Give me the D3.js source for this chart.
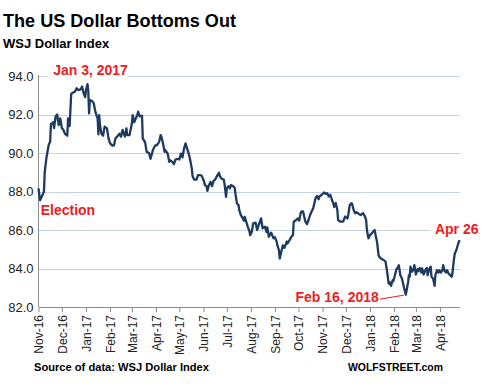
<!DOCTYPE html>
<html>
<head>
<meta charset="utf-8">
<script src="https://cdn.jsdelivr.net/npm/d3@7"></script>
<style>
  body { margin: 0; background: #fff; }
  svg { display: block; font-family: "Liberation Sans", Arial, sans-serif; }
</style>
</head>
<body>
<div id="chart"></div>
<script>
var width = 484,
    height = 386;

// WSJ Dollar Index
var dates = [
  "2016-11-01","2016-11-03","2016-11-07","2016-11-08","2016-11-09","2016-11-11","2016-11-14","2016-11-16","2016-11-17","2016-11-20",
  "2016-11-21","2016-11-23","2016-11-25","2016-11-27","2016-11-29","2016-12-01","2016-12-03","2016-12-05","2016-12-08","2016-12-09",
  "2016-12-11","2016-12-13","2016-12-14","2016-12-18","2016-12-20","2016-12-22","2016-12-25","2016-12-27","2016-12-29","2016-12-31",
  "2017-01-01","2017-01-03","2017-01-04","2017-01-05","2017-01-06","2017-01-09","2017-01-11","2017-01-13","2017-01-15","2017-01-16",
  "2017-01-17","2017-01-18","2017-01-19","2017-01-21","2017-01-23","2017-01-25","2017-01-28","2017-01-30","2017-02-01","2017-02-04",
  "2017-02-06","2017-02-08","2017-02-11","2017-02-13","2017-02-15","2017-02-17","2017-02-20","2017-02-22","2017-02-23","2017-02-26",
  "2017-03-01","2017-03-02","2017-03-04","2017-03-06","2017-03-08","2017-03-09","2017-03-11","2017-03-14","2017-03-15","2017-03-18",
  "2017-03-20","2017-03-23","2017-03-25","2017-03-28","2017-03-31","2017-04-02","2017-04-05","2017-04-07","2017-04-08","2017-04-10",
  "2017-04-12","2017-04-13","2017-04-16","2017-04-18","2017-04-19","2017-04-22","2017-04-24","2017-04-26","2017-04-29","2017-05-01",
  "2017-05-03","2017-05-05","2017-05-07","2017-05-09","2017-05-11","2017-05-13","2017-05-15","2017-05-17","2017-05-18","2017-05-20",
  "2017-05-23","2017-05-25","2017-05-28","2017-05-30","2017-06-01","2017-06-03","2017-06-05","2017-06-06","2017-06-08","2017-06-10",
  "2017-06-12","2017-06-14","2017-06-16","2017-06-19","2017-06-21","2017-06-22","2017-06-24","2017-06-27","2017-06-28","2017-06-30",
  "2017-07-01","2017-07-03","2017-07-05","2017-07-06","2017-07-09","2017-07-11","2017-07-12","2017-07-14","2017-07-16","2017-07-17",
  "2017-07-19","2017-07-21","2017-07-23","2017-07-24","2017-07-26","2017-07-28","2017-07-30","2017-07-31","2017-08-02","2017-08-04",
  "2017-08-07","2017-08-09","2017-08-11","2017-08-14","2017-08-16","2017-08-19","2017-08-21","2017-08-22","2017-08-24","2017-08-27",
  "2017-08-30","2017-09-01","2017-09-03","2017-09-04","2017-09-06","2017-09-07","2017-09-10","2017-09-11","2017-09-13","2017-09-16",
  "2017-09-17","2017-09-20","2017-09-22","2017-09-24","2017-09-25","2017-09-28","2017-09-30","2017-10-02","2017-10-04","2017-10-05",
  "2017-10-07","2017-10-09","2017-10-10","2017-10-12","2017-10-14","2017-10-16","2017-10-18","2017-10-20","2017-10-21","2017-10-23",
  "2017-10-25","2017-10-27","2017-10-28","2017-10-31","2017-11-03","2017-11-05","2017-11-07","2017-11-09","2017-11-11","2017-11-13",
  "2017-11-15","2017-11-16","2017-11-18","2017-11-20","2017-11-21","2017-11-24","2017-11-27","2017-11-28","2017-11-30","2017-12-03",
  "2017-12-04","2017-12-06","2017-12-08","2017-12-09","2017-12-11","2017-12-13","2017-12-15","2017-12-18","2017-12-20","2017-12-23",
  "2017-12-25","2017-12-27","2017-12-28","2017-12-30","2018-01-01","2018-01-02","2018-01-05","2018-01-07","2018-01-08","2018-01-10",
  "2018-01-12","2018-01-13","2018-01-16","2018-01-19","2018-01-21","2018-01-23","2018-01-25","2018-01-26","2018-01-28","2018-01-30",
  "2018-01-31","2018-02-02","2018-02-04","2018-02-06","2018-02-07","2018-02-09","2018-02-11","2018-02-14","2018-02-16","2018-02-19",
  "2018-02-20","2018-02-21","2018-02-22","2018-02-24","2018-02-26","2018-02-27","2018-03-01","2018-03-03","2018-03-04","2018-03-06",
  "2018-03-08","2018-03-09","2018-03-11","2018-03-13","2018-03-15","2018-03-16","2018-03-18","2018-03-20","2018-03-21","2018-03-23",
  "2018-03-25","2018-03-26","2018-03-28","2018-03-30","2018-03-31","2018-04-02","2018-04-04","2018-04-05","2018-04-07","2018-04-09",
  "2018-04-10","2018-04-12","2018-04-14","2018-04-16","2018-04-17","2018-04-19","2018-04-20","2018-04-22","2018-04-24","2018-04-26"
];

var values = [
  88.16,87.55,87.90,88.00,89.00,89.70,90.40,90.60,91.50,91.60,
  91.30,91.90,92.00,91.45,91.80,91.30,91.20,91.00,90.90,91.80,
  91.40,93.05,93.10,93.20,93.36,93.27,93.30,93.45,93.10,92.90,
  93.27,93.58,93.20,92.06,92.75,92.70,92.58,92.15,91.90,91.80,
  90.97,91.97,91.45,91.00,90.90,91.37,91.28,90.76,90.50,90.38,
  90.40,90.76,90.90,91.00,90.85,91.20,90.85,91.28,90.93,90.93,
  91.54,91.97,91.60,91.80,91.97,92.15,91.90,91.94,90.76,90.55,
  90.06,90.00,89.70,90.15,90.40,90.40,90.58,90.93,90.84,90.50,
  90.06,90.15,89.97,89.54,89.63,89.54,89.42,89.66,89.70,89.66,
  89.97,89.77,90.23,90.50,90.23,89.97,89.63,89.20,88.80,88.62,
  88.62,88.85,88.85,88.80,88.60,88.33,88.28,88.03,88.33,88.50,
  88.28,88.55,88.62,88.85,88.97,88.80,88.68,88.62,88.42,87.72,
  88.16,88.28,88.16,88.33,88.28,88.20,87.90,87.38,87.30,87.03,
  86.77,86.65,86.48,86.68,86.42,86.16,85.95,85.73,85.90,86.35,
  86.38,86.00,86.26,86.60,86.09,86.17,85.90,86.14,85.65,85.86,
  85.57,85.62,85.40,85.20,84.96,84.52,85.04,85.20,85.07,85.40,
  85.30,85.50,85.65,85.74,86.43,86.52,86.60,86.49,86.90,86.96,
  86.96,86.60,86.43,86.30,86.52,86.78,86.96,87.13,87.30,87.65,
  87.77,87.60,87.74,87.83,87.95,87.88,87.91,87.74,87.83,87.57,
  87.36,87.20,87.40,87.04,86.52,86.43,86.43,86.49,86.70,86.60,
  86.78,87.30,87.39,87.36,87.04,86.87,86.92,86.82,86.78,86.87,
  86.75,86.52,86.00,85.57,85.74,85.77,85.91,86.00,85.77,85.39,
  84.70,84.60,84.49,84.43,84.35,83.83,83.22,83.30,83.10,83.39,
  83.34,83.65,83.97,84.08,84.17,83.65,83.48,82.96,82.64,83.30,
  83.65,83.57,84.09,83.83,83.97,84.17,83.69,83.97,83.86,84.03,
  83.79,84.00,83.69,83.91,84.03,83.65,83.97,84.09,83.57,83.48,
  83.10,83.65,83.91,83.79,83.91,83.79,83.91,84.17,83.86,83.79,
  83.91,83.74,83.65,83.57,83.79,84.52,84.78,84.96,85.25,85.48
];

var yTicks = [82, 84, 86, 88, 90, 92, 94];

var annotations = [
  { text: "Jan 3, 2017", date: "2017-01-03", anchor: "middle" },
  { text: "Election", date: "2016-11-08", anchor: "middle" },
  { text: "Feb 16, 2018", date: "2018-02-16", anchor: "end" },
  { text: "Apr 26", date: "2018-04-26", anchor: "end" }
];

var parseDate = d3.timeParse("%Y-%m-%d");
var data = dates.map(function(d, i) { return { date: parseDate(d), value: values[i] }; });

var svg = d3.select("#chart").append("svg")
    .attr("width", width)
    .attr("height", height);

var x = d3.scaleTime()
    .domain([parseDate("2016-11-01"), parseDate("2018-04-26")])
    .range([38.5, 459.5]);

var y = d3.scaleLinear()
    .domain([82, 94])
    .range([307, 76]);

// titles
svg.append("text")
    .attr("x", 3).attr("y", 27)
    .attr("font-size", 18).attr("font-weight", "bold")
    .attr("textLength", 233).attr("lengthAdjust", "spacingAndGlyphs")
    .attr("fill", "#000")
    .text("The US Dollar Bottoms Out");

svg.append("text")
    .attr("x", 3).attr("y", 48)
    .attr("font-size", 13).attr("font-weight", "bold")
    .attr("fill", "#000")
    .text("WSJ Dollar Index");

// gridlines
svg.append("g")
    .selectAll("line")
    .data(yTicks.filter(function(t) { return t > 82; }))
    .enter().append("line")
    .attr("x1", x.range()[0]).attr("x2", 460)
    .attr("y1", function(d) { return Math.round(y(d)) + 0.5; })
    .attr("y2", function(d) { return Math.round(y(d)) + 0.5; })
    .style("stroke", "#c3d2e6")
    .style("stroke-width", 1.2);

// y axis
var yAxis = svg.append("g")
    .attr("transform", "translate(38.5,0)")
    .call(d3.axisLeft(y).tickValues(yTicks).tickFormat(d3.format(".1f")).tickSize(0).tickPadding(5));
yAxis.select(".domain").style("stroke", "#8c8c8c").attr("d", "M0," + (y(94) - 1) + "V" + y(82));
yAxis.selectAll("text")
    .attr("font-family", "Liberation Sans, Arial, sans-serif")
    .attr("font-size", 13)
    .attr("fill", "#222");

// x axis
var xAxis = svg.append("g")
    .attr("transform", "translate(0," + y(82) + ")")
    .call(d3.axisBottom(x).ticks(d3.timeMonth.every(1)).tickFormat(d3.timeFormat("%b-%y")).tickSizeInner(5).tickSizeOuter(0));
xAxis.select(".domain").style("stroke", "#8c8c8c");
xAxis.selectAll(".tick line").style("stroke", "#8c8c8c");
xAxis.selectAll("text")
    .attr("font-family", "Liberation Sans, Arial, sans-serif")
    .attr("font-size", 12)
    .attr("fill", "#222")
    .attr("transform", "rotate(-90)")
    .attr("x", -8).attr("y", 0)
    .attr("dy", "0.35em")
    .style("text-anchor", "end");

// the line
var line = d3.line()
    .x(function(d) { return x(d.date); })
    .y(function(d) { return y(d.value); });

svg.append("path")
    .datum(data)
    .attr("d", line)
    .style("fill", "none")
    .style("stroke", "#1d3a60")
    .style("stroke-width", 2.3)
    .style("stroke-linejoin", "round");

// annotations
var red = "#ec1c24";
function findValue(ds) {
    return values[dates.indexOf(ds)];
}

var a0 = annotations[0];
var jan3 = svg.append("g");
jan3.append("rect")
    .attr("x", x(parseDate(a0.date)) - 40).attr("y", y(94) - 12)
    .attr("width", 80).attr("height", 16)
    .attr("fill", "#fff");
jan3.append("text")
    .attr("x", x(parseDate(a0.date)) + 3).attr("y", y(94) - 1)
    .attr("text-anchor", "middle")
    .attr("font-size", 14).attr("font-weight", "bold").attr("fill", red)
    .text(a0.text);

var a1 = annotations[1];
svg.append("text")
    .attr("x", x(parseDate(a1.date)) + 24).attr("y", y(88) + 23)
    .attr("text-anchor", "middle")
    .attr("font-size", 14).attr("font-weight", "bold").attr("fill", red)
    .text(a1.text);

var a2 = annotations[2];
var febX = x(parseDate(a2.date)), febY = y(findValue(a2.date));
svg.append("text")
    .attr("x", febX - 27).attr("y", febY + 7)
    .attr("text-anchor", "end")
    .attr("font-size", 14).attr("font-weight", "bold").attr("fill", red)
    .text(a2.text);
svg.append("line")
    .attr("x1", febX - 26).attr("y1", febY + 4.5)
    .attr("x2", febX - 2).attr("y2", febY + 0.5)
    .style("stroke", red).style("stroke-width", 1);

var a3 = annotations[3];
var aprG = svg.append("g");
aprG.append("rect")
    .attr("x", 431).attr("y", y(86) - 3)
    .attr("width", 53).attr("height", 12)
    .attr("fill", "#fff");
aprG.append("text")
    .attr("x", x(parseDate(a3.date)) + 19).attr("y", y(findValue(a3.date)) - 6)
    .attr("text-anchor", a3.anchor)
    .attr("font-size", 14).attr("font-weight", "bold").attr("fill", red)
    .text(a3.text);

// footer
svg.append("text")
    .attr("x", 34).attr("y", 371)
    .attr("font-size", 11).attr("font-weight", "bold")
    .attr("textLength", 175).attr("lengthAdjust", "spacingAndGlyphs")
    .attr("fill", "#000")
    .text("Source of data: WSJ Dollar Index");

svg.append("text")
    .attr("x", 348).attr("y", 371)
    .attr("font-size", 11).attr("font-weight", "bold")
    .attr("textLength", 95).attr("lengthAdjust", "spacingAndGlyphs")
    .attr("fill", "#000")
    .text("WOLFSTREET.com");
</script>
</body>
</html>
